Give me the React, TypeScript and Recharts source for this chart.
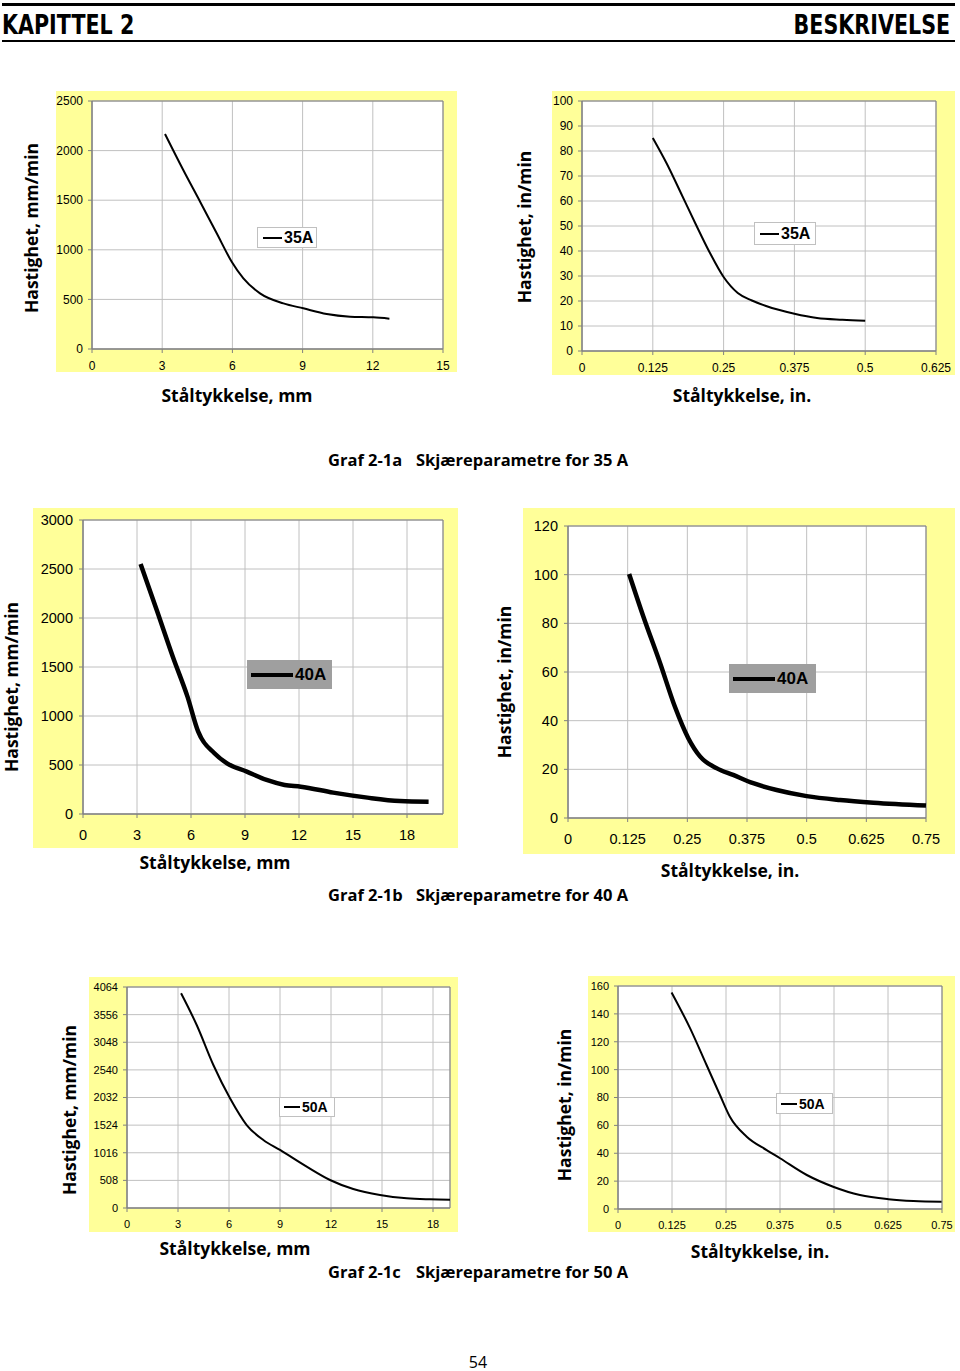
import React from "react";
import {
  LineChart,
  Line,
  XAxis,
  YAxis,
  CartesianGrid,
  Legend,
  ReferenceArea,
} from "recharts";

// Graf 2-1a, 35 A
const mm35Thickness = [3.12, 3.9, 4.62, 5.33, 5.97, 6.47, 7.18, 8.18, 9.03, 10.03, 11.03, 12.02, 12.71];
const mm35Speed = [2167, 1804, 1485, 1166, 880, 712, 561, 460, 410, 353, 326, 319, 306];
const in35Thickness = [0.125, 0.15, 0.175, 0.2, 0.225, 0.25, 0.275, 0.3, 0.325, 0.375, 0.415, 0.46, 0.5];
const in35Speed = [85.2, 74.8, 63.0, 51.1, 39.6, 29.6, 23.2, 20.2, 18.0, 14.9, 13.2, 12.5, 12.1];

// Graf 2-1b, 40 A
const mm40Thickness = [3.2, 4.1, 5.0, 5.8, 6.4, 7.3, 8.0, 9.1, 10.2, 11.2, 12.1, 13.9, 15.8, 17.6, 19.2];
const mm40Speed = [2550, 2080, 1600, 1200, 840, 620, 517, 432, 347, 296, 279, 218, 167, 133, 126];
const in40Thickness = [0.128, 0.158, 0.193, 0.224, 0.252, 0.277, 0.312, 0.346, 0.388, 0.437, 0.5, 0.57, 0.64, 0.75];
const in40Speed = [100.3, 82.7, 63.6, 45.7, 32.8, 25.2, 20.4, 17.7, 14.3, 11.5, 9.0, 7.4, 6.3, 5.1];

// Graf 2-1c, 50 A
const mm50Thickness = [3.18, 4.1, 5.08, 6.06, 7.04, 8.02, 9.0, 10.57, 11.94, 13.31, 14.88, 16.45, 17.82, 19.0];
const mm50Speed = [3949, 3365, 2630, 2017, 1526, 1250, 1067, 760, 515, 349, 239, 178, 160, 153];
const in50Thickness = [0.124, 0.167, 0.205, 0.236, 0.259, 0.298, 0.344, 0.375, 0.437, 0.498, 0.56, 0.626, 0.684, 0.749];
const in50Speed = [155.4, 129.6, 103.3, 81.8, 66.2, 51.9, 42.3, 36.4, 24.4, 16.0, 10.0, 7.0, 5.7, 5.2];

// tick labels
const mmTicks15 = [0, 3, 6, 9, 12, 15];
const mmTicks18 = [0, 3, 6, 9, 12, 15, 18];
const inTicks0625 = [0, 0.125, 0.25, 0.375, 0.5, 0.625];
const inTicks075 = [0, 0.125, 0.25, 0.375, 0.5, 0.625, 0.75];
const speedTicks2500 = [0, 500, 1000, 1500, 2000, 2500];
const speedTicks100 = [0, 10, 20, 30, 40, 50, 60, 70, 80, 90, 100];
const speedTicks3000 = [0, 500, 1000, 1500, 2000, 2500, 3000];
const speedTicks120 = [0, 20, 40, 60, 80, 100, 120];
const speedTicks4064 = [0, 508, 1016, 1524, 2032, 2540, 3048, 3556, 4064];
const speedTicks160 = [0, 20, 40, 60, 80, 100, 120, 140, 160];

const ARIAL = "'Liberation Sans', Arial, sans-serif";
const MYRIAD = "'Open Sans', 'Noto Sans', sans-serif";
const CONDENSED = "'DejaVu Sans Condensed', 'DejaVu Sans', sans-serif";

type Box = { x: number; y: number; w: number; h: number };
type Plot = { l: number; t: number; r: number; b: number };
type LegendSpec = Box & {
  label: string;
  fill: string;
  border: string;
  pad: number;
  lineLen: number;
  lineW: number;
  fontSize: number;
};

interface CutChartProps {
  yellow: Box;
  plot: Plot;
  xs: number[];
  ys: number[];
  xDomain: [number, number];
  xTicks: number[];
  yDomain: [number, number];
  yTicks: number[];
  tickFont: number;
  xTickMargin: number;
  yTickMargin: number;
  lineWidth: number;
  legend: LegendSpec;
}

function LegendBox({ legend }: { legend: LegendSpec }) {
  return (
    <div
      style={{
        width: legend.w,
        height: legend.h,
        boxSizing: "border-box",
        background: legend.fill,
        border: legend.border,
        display: "flex",
        alignItems: "center",
        paddingLeft: legend.pad,
      }}
    >
      <div style={{ width: legend.lineLen, height: legend.lineW, background: "#000" }} />
      <span
        style={{
          marginLeft: 2,
          fontFamily: ARIAL,
          fontWeight: 700,
          fontSize: legend.fontSize,
          color: "#000",
          lineHeight: 1,
        }}
      >
        {legend.label}
      </span>
    </div>
  );
}

function CutChart({
  yellow,
  plot,
  xs,
  ys,
  xDomain,
  xTicks,
  yDomain,
  yTicks,
  tickFont,
  xTickMargin,
  yTickMargin,
  lineWidth,
  legend,
}: CutChartProps) {
  const data = xs.map((x, i) => ({ x, speed: ys[i] }));
  const tick = { fontSize: tickFont, fill: "#000", fontFamily: ARIAL };

  return (
    <div
      style={{
        position: "absolute",
        left: yellow.x,
        top: yellow.y,
        width: yellow.w,
        height: yellow.h,
        background: "#ffff99",
      }}
    >
      <LineChart
        width={yellow.w}
        height={yellow.h}
        data={data}
        margin={{
          top: plot.t - yellow.y,
          right: yellow.x + yellow.w - plot.r,
          left: 0,
          bottom: 0,
        }}
      >
        <CartesianGrid stroke="#c0c0c0" fill="#ffffff" />
        <XAxis
          type="number"
          dataKey="x"
          domain={xDomain}
          ticks={xTicks}
          interval={0}
          height={yellow.y + yellow.h - plot.b}
          tickSize={4}
          tickMargin={xTickMargin}
          tick={tick}
          stroke="#808080"
        />
        <YAxis
          type="number"
          domain={yDomain}
          ticks={yTicks}
          interval={0}
          width={plot.l - yellow.x}
          tickSize={4}
          tickMargin={yTickMargin}
          tick={tick}
          stroke="#808080"
        />
        <ReferenceArea
          x1={xDomain[0]}
          x2={xDomain[1]}
          y1={yDomain[0]}
          y2={yDomain[1]}
          fill="none"
          stroke="#808080"
          strokeOpacity={1}
        />
        <Legend
          layout="vertical"
          align="center"
          verticalAlign="middle"
          wrapperStyle={{
            left: legend.x - yellow.x,
            top: legend.y - yellow.y,
            width: legend.w,
            height: legend.h,
          }}
          content={() => <LegendBox legend={legend} />}
        />
        <Line
          type="monotone"
          dataKey="speed"
          name={legend.label}
          stroke="#000"
          strokeWidth={lineWidth}
          dot={false}
          isAnimationActive={false}
        />
      </LineChart>
    </div>
  );
}

function XTitle({ cx, cy, text }: { cx: number; cy: number; text: string }) {
  return (
    <div
      style={{
        position: "absolute",
        left: cx,
        top: cy,
        transform: "translate(-50%, -50%)",
        whiteSpace: "nowrap",
        fontFamily: MYRIAD,
        fontWeight: 700,
        fontSize: 17.5,
        lineHeight: 1,
      }}
    >
      {text}
    </div>
  );
}

function YTitle({ cx, cy, text }: { cx: number; cy: number; text: string }) {
  return (
    <div
      style={{
        position: "absolute",
        left: cx,
        top: cy,
        transform: "translate(-50%, -50%) rotate(-90deg)",
        whiteSpace: "nowrap",
        fontFamily: MYRIAD,
        fontWeight: 700,
        fontSize: 17.5,
        lineHeight: 1,
      }}
    >
      {text}
    </div>
  );
}

function Caption({ top, code, text }: { top: number; code: string; text: string }) {
  const style: React.CSSProperties = {
    position: "absolute",
    top,
    fontFamily: MYRIAD,
    fontWeight: 700,
    fontSize: 16.5,
    lineHeight: 1,
    whiteSpace: "nowrap",
  };
  return (
    <>
      <div style={{ ...style, left: 328 }}>{code}</div>
      <div style={{ ...style, left: 416 }}>{text}</div>
    </>
  );
}

export default function App() {
  const headerStyle: React.CSSProperties = {
    position: "absolute",
    top: 11,
    fontFamily: CONDENSED,
    fontWeight: 700,
    fontSize: 27,
    lineHeight: 1,
    whiteSpace: "nowrap",
  };
  return (
    <div style={{ position: "absolute", left: 0, top: 0, width: 960, height: 1371, background: "#fff" }}>
      {/* header */}
      <div style={{ position: "absolute", left: 2, top: 3, width: 953, height: 3, background: "#000" }} />
      <div style={{ position: "absolute", left: 2, top: 40, width: 953, height: 2, background: "#000" }} />
      <div style={{ ...headerStyle, left: 2, transform: "scaleX(0.85)", transformOrigin: "left center" }}>
        KAPITTEL 2
      </div>
      <div style={{ ...headerStyle, right: 10, transform: "scaleX(0.85)", transformOrigin: "right center" }}>
        BESKRIVELSE
      </div>

      {/* Graf 2-1a */}
      <CutChart
        yellow={{ x: 56, y: 91, w: 401, h: 281 }}
        plot={{ l: 92, t: 101, r: 443, b: 349 }}
        xs={mm35Thickness}
        ys={mm35Speed}
        xDomain={[0, 15]}
        xTicks={mmTicks15}
        yDomain={[0, 2500]}
        yTicks={speedTicks2500}
        tickFont={12}
        xTickMargin={8}
        yTickMargin={5}
        lineWidth={2}
        legend={{ x: 257, y: 227, w: 60, h: 21, label: "35A", fill: "#fff", border: "1px solid #c0c0c0", pad: 5, lineLen: 19, lineW: 2, fontSize: 16 }}
      />
      <YTitle cx={32} cy={228} text="Hastighet, mm/min" />
      <XTitle cx={237} cy={396} text="Ståltykkelse, mm" />

      <CutChart
        yellow={{ x: 552, y: 91, w: 403, h: 284 }}
        plot={{ l: 582, t: 101, r: 936, b: 351 }}
        xs={in35Thickness}
        ys={in35Speed}
        xDomain={[0, 0.625]}
        xTicks={inTicks0625}
        yDomain={[0, 100]}
        yTicks={speedTicks100}
        tickFont={12}
        xTickMargin={8}
        yTickMargin={5}
        lineWidth={2}
        legend={{ x: 754, y: 222, w: 62, h: 23, label: "35A", fill: "#fff", border: "1px solid #c0c0c0", pad: 5, lineLen: 19, lineW: 2, fontSize: 16 }}
      />
      <YTitle cx={525} cy={227} text="Hastighet, in/min" />
      <XTitle cx={742} cy={396} text="Ståltykkelse, in." />

      <Caption top={452} code="Graf 2-1a" text="Skjæreparametre for 35 A" />

      {/* Graf 2-1b */}
      <CutChart
        yellow={{ x: 33, y: 508, w: 425, h: 340 }}
        plot={{ l: 83, t: 520, r: 443, b: 814 }}
        xs={mm40Thickness}
        ys={mm40Speed}
        xDomain={[0, 20]}
        xTicks={mmTicks18}
        yDomain={[0, 3000]}
        yTicks={speedTicks3000}
        tickFont={14.5}
        xTickMargin={12}
        yTickMargin={6}
        lineWidth={4.5}
        legend={{ x: 247, y: 660, w: 85, h: 29, label: "40A", fill: "#9f9f9f", border: "none", pad: 4, lineLen: 42, lineW: 4, fontSize: 17 }}
      />
      <YTitle cx={12} cy={687} text="Hastighet, mm/min" />
      <XTitle cx={215} cy={863} text="Ståltykkelse, mm" />

      <CutChart
        yellow={{ x: 523, y: 508, w: 432, h: 346 }}
        plot={{ l: 568, t: 526, r: 926, b: 818 }}
        xs={in40Thickness}
        ys={in40Speed}
        xDomain={[0, 0.75]}
        xTicks={inTicks075}
        yDomain={[0, 120]}
        yTicks={speedTicks120}
        tickFont={14.5}
        xTickMargin={12}
        yTickMargin={6}
        lineWidth={4.5}
        legend={{ x: 729, y: 664, w: 87, h: 29, label: "40A", fill: "#9f9f9f", border: "none", pad: 4, lineLen: 42, lineW: 4, fontSize: 17 }}
      />
      <YTitle cx={505} cy={682} text="Hastighet, in/min" />
      <XTitle cx={730} cy={871} text="Ståltykkelse, in." />

      <Caption top={887} code="Graf 2-1b" text="Skjæreparametre for 40 A" />

      {/* Graf 2-1c */}
      <CutChart
        yellow={{ x: 89, y: 977, w: 369, h: 255 }}
        plot={{ l: 127, t: 987, r: 450, b: 1208 }}
        xs={mm50Thickness}
        ys={mm50Speed}
        xDomain={[0, 19]}
        xTicks={mmTicks18}
        yDomain={[0, 4064]}
        yTicks={speedTicks4064}
        tickFont={11}
        xTickMargin={8}
        yTickMargin={5}
        lineWidth={2}
        legend={{ x: 279, y: 1097, w: 56, h: 20, label: "50A", fill: "#fff", border: "1px solid #c0c0c0", pad: 4, lineLen: 16, lineW: 2, fontSize: 14 }}
      />
      <YTitle cx={70} cy={1110} text="Hastighet, mm/min" />
      <XTitle cx={235} cy={1249} text="Ståltykkelse, mm" />

      <CutChart
        yellow={{ x: 588, y: 976, w: 367, h: 256 }}
        plot={{ l: 618, t: 986, r: 942, b: 1209 }}
        xs={in50Thickness}
        ys={in50Speed}
        xDomain={[0, 0.75]}
        xTicks={inTicks075}
        yDomain={[0, 160]}
        yTicks={speedTicks160}
        tickFont={11}
        xTickMargin={8}
        yTickMargin={5}
        lineWidth={2}
        legend={{ x: 776, y: 1093, w: 57, h: 21, label: "50A", fill: "#fff", border: "1px solid #c0c0c0", pad: 4, lineLen: 16, lineW: 2, fontSize: 14 }}
      />
      <YTitle cx={565} cy={1105} text="Hastighet, in/min" />
      <XTitle cx={760} cy={1252} text="Ståltykkelse, in." />

      <Caption top={1264} code="Graf 2-1c" text="Skjæreparametre for 50 A" />

      <div
        style={{
          position: "absolute",
          left: 478,
          top: 1362,
          transform: "translate(-50%, -50%)",
          fontFamily: MYRIAD,
          fontSize: 16,
          lineHeight: 1,
        }}
      >
        54
      </div>
    </div>
  );
}
